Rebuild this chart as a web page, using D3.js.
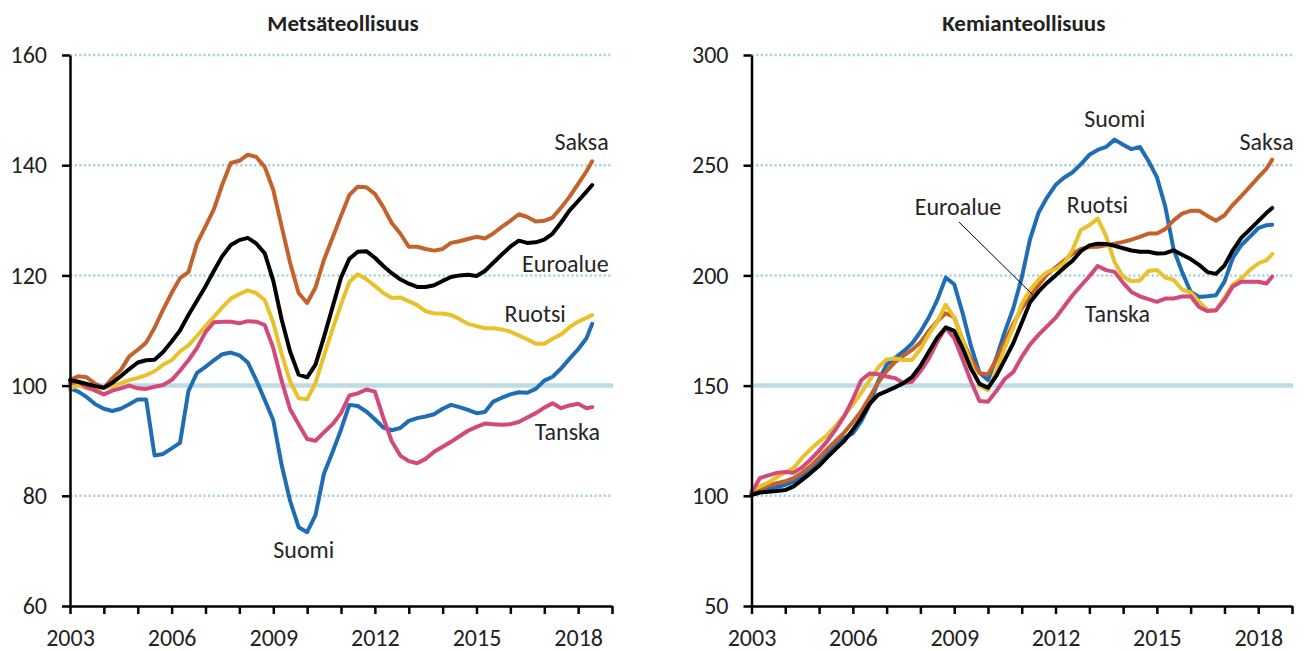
<!DOCTYPE html>
<html><head><meta charset="utf-8">
<script src="https://cdn.jsdelivr.net/npm/d3@7"></script>
<style>
body{margin:0;background:#fff;}
svg{display:block;font-family:Carlito,Calibri,Lato,sans-serif;}
</style></head><body>
<svg id="chart" width="1304" height="651"></svg>
<script>
// ---------- DATA ----------
const dates = ["2003-01","2003-04","2003-07","2003-10","2004-01","2004-04","2004-07","2004-10",
"2005-01","2005-04","2005-07","2005-10","2006-01","2006-04","2006-07","2006-10",
"2007-01","2007-04","2007-07","2007-10","2008-01","2008-04","2008-07","2008-10",
"2009-01","2009-04","2009-07","2009-10","2010-01","2010-04","2010-07","2010-10",
"2011-01","2011-04","2011-07","2011-10","2012-01","2012-04","2012-07","2012-10",
"2013-01","2013-04","2013-07","2013-10","2014-01","2014-04","2014-07","2014-10",
"2015-01","2015-04","2015-07","2015-10","2016-01","2016-04","2016-07","2016-10",
"2017-01","2017-04","2017-07","2017-10","2018-01","2018-04","2018-06"];

const seriesNames = ["Suomi","Saksa","Ruotsi","Tanska","Euroalue"];
const panelTitles = ["Metsäteollisuus","Kemianteollisuus"];
const xTickYears = [2003,2006,2009,2012,2015,2018];
const metsaTicks = [60,80,100,120,140,160];
const kemiaTicks = [50,100,150,200,250,300];

// Metsäteollisuus (forest industry), index 2003 = 100
const metsaSuomi = [99.5,98.9,97.9,96.6, 95.8,95.4,95.8,96.6, 97.5,97.5,87.3,87.6, 88.6,89.6,99,102.3,
 103.4,104.6,105.7,106, 105.5,104.2,101,97.4, 93.7,85.6,79.1,74.3, 73.4,76.5,84,87.9,
 92,96.5,96.3,95.3, 93.9,92.4,91.9,92.3, 93.6,94.1,94.4,94.8, 95.8,96.5,96.1,95.6,
 95,95.2,97.1,97.8, 98.4,98.8,98.7,99.4, 100.9,101.6,103.1,104.9, 106.6,108.6,111.2];
const metsaSaksa = [101,101.7,101.5,100.3, 99.6,101.3,102.8,105.3, 106.5,107.8,110.5,113.8, 116.8,119.5,120.6,125.8,
 128.9,132,136.5,140.4, 140.8,141.9,141.5,139.7, 135.5,128.9,122.3,116.8, 115,117.8,122.8,126.8,
 130.8,134.6,136.1,136, 134.8,132.4,129.5,127.6, 125.2,125.2,124.8,124.5, 124.8,125.9,126.2,126.6,
 127,126.7,127.6,128.8, 129.9,131.1,130.6,129.8, 129.9,130.5,132.3,134.3, 136.6,138.9,140.7];
const metsaRuotsi = [99.5,100.1,99.5,99.3, 99.6,99.9,100.4,101, 101.4,101.9,102.6,103.8, 104.6,106.2,107.3,109,
 110.8,112.5,114.2,115.8, 116.6,117.3,116.8,115.5, 111.4,105.7,100.8,97.7, 97.5,100.5,105.4,110.2,
 114.7,118.8,120.2,119.3, 118.1,116.8,115.9,116, 115.3,114.6,113.5,113.1, 113.1,112.8,112.1,111.2,
 110.8,110.4,110.4,110.2, 109.8,109.1,108.4,107.6, 107.6,108.5,109.3,110.6, 111.6,112.3,112.8];
const metsaTanska = [100.4,100.7,99.7,99.1, 98.4,99.1,99.5,100, 99.5,99.4,99.8,100.1, 101,102.7,104.6,106.8,
 109.7,111.5,111.6,111.6, 111.3,111.7,111.6,111, 106.8,100.9,95.7,93, 90.3,90,91.5,93,
 95,98.2,98.6,99.3, 98.9,94.2,89.9,87.3, 86.3,85.9,86.7,88, 88.9,89.8,90.8,91.8,
 92.5,93.1,93,92.9, 93,93.4,94.2,95, 96,96.8,95.9,96.4, 96.7,95.9,96.1];
const metsaEuroalue = [101,100.7,100.3,99.9, 99.6,100.5,101.7,103, 104.2,104.6,104.7,106.1, 108,110,112.8,115.4,
 118,120.8,123.5,125.5, 126.4,126.8,125.8,124, 119,112,106.2,102, 101.5,103.8,108.8,114.2,
 119.6,123,124.3,124.4, 123.2,121.7,120.4,119.3, 118.5,117.9,117.9,118.2, 119,119.7,120,120.1,
 119.9,120.8,122.3,123.8, 125.2,126.3,125.9,126, 126.5,127.6,129.6,131.8, 133.5,135.2,136.4];

// Kemianteollisuus (chemical industry), index 2003 = 100
const kemiaSuomi = [100.5,102,103.2,104, 104.9,106.4,109,112, 115.8,119.8,123.2,126.3, 128.3,133.8,141.4,152,
 159.5,162.5,165.5,169, 174.3,180.9,188.8,199, 196,183,168,155.8, 152.5,162.5,174.4,185,
 199,216.5,228.4,235.3, 241,244.3,246.7,250.4, 254.7,256.9,258.3,261.6, 259.3,257.3,258.3,252,
 244.6,231.4,211.8,201.5, 192.6,190.2,190.5,191, 197.2,207.9,213.7,217.5, 221.4,222.8,223];
const kemiaSaksa = [101.5,103.1,104.6,105.7, 106.6,108,110.5,113.5, 117.3,121.3,125,128.8, 133.5,138.4,144.7,151.3,
 156.6,160.6,163.5,166.2, 169.6,174.7,179.2,182.8, 181,170.7,162,155.7, 155,161.8,169.8,178,
 185,190.5,195.5,200.5, 203.5,206.6,209.8,212, 212.9,213,213.7,214.4, 215.2,216.2,217.5,219,
 219,221,225,228, 229.3,229.3,227,224.8, 227.3,232,236,240.2, 244.5,248.5,252.5];
const kemiaRuotsi = [102.5,104.2,106,108.4, 110.7,112.6,117.3,121.1, 124.6,127.6,131.8,136.5, 141.4,146.7,152.4,158.2,
 161.9,162.3,161.6,161.6, 166.5,173.2,178.8,186.7, 180.9,170.5,160,149.8, 147.9,156.6,167.1,176.3,
 187,193.4,198,201.5, 202.8,205.4,211.4,220.6, 222.8,225.8,217.8,206, 199.4,197.4,197.7,202,
 202.4,199,198,193.6, 192.3,188.1,184.2,184.1, 189.9,195.8,198.5,202.4, 205.4,206.9,209.6];
const kemiaTanska = [101.5,108,109.3,110.4, 110.8,110.5,112.9,116.5, 120.5,124.9,130.2,136.2, 143.9,152.4,155.5,155.2,
 154.1,153.4,151.2,151.7, 156.5,162.2,169.8,176.3, 171.5,162,152,143, 142.7,147.5,153,156.1,
 163,168.7,173,176.9, 180.7,185.8,190.9,195.3, 199.6,204.3,202.4,201.6, 196.6,192.5,190.5,189.2,
 188,189.5,189.5,190.4, 190.5,185.7,183.8,184.2, 188.9,195,197.1,197.1, 197.1,196.3,199.5];
const kemiaEuroalue = [100.3,101.5,101.8,102.2, 102.6,104.3,107.2,110.3, 113.6,117.5,121.3,125, 130,135.4,141.7,145.8,
 147.5,149.2,151.1,153.8, 158.9,165.4,171.7,176.4, 174.8,167,157.7,150.8, 149,154.4,161.7,169.2,
 178.5,187.8,192.6,196.6, 200,203.4,206.6,211, 213.6,214.4,214.3,213.4, 212.3,211.3,210.7,210.7,
 209.9,210.1,211.4,209.4, 207.4,204.8,201.5,200.7, 204.5,211.4,217,220.8, 224.6,228.4,230.6];

// label anchors in data units: [name, year, value, anchor]
const metsaLabels = [["Saksa",2018.9,142.8,"end"],["Euroalue",2018.9,120.6,"end"],["Ruotsi",2015.83,111.5,"start"],
 ["Tanska",2016.72,90.1,"start"],["Suomi",2009.9,68.7,"middle"]];
const kemiaLabels = [["Suomi",2013.75,267.3,"middle"],["Saksa",2019.05,256.9,"end"],["Ruotsi",2013.24,228.3,"middle"],
 ["Tanska",2013.83,178.9,"middle"],["Euroalue",2009.11,227.4,"middle"]];
const kemiaLeader = [[2009.14,224.2],[2011.36,190.7]];

// ---------- DRAW ----------
const colors = {Suomi:"#1f6db4", Saksa:"#c5612b", Ruotsi:"#e9c12b", Tanska:"#d2497a", Euroalue:"#000000"};
const parse = d3.timeParse("%Y-%m");
const dt = dates.map(parse);
const yearDate = yv => new Date(Math.floor(yv), 0, 1).getTime() + (yv - Math.floor(yv)) * 365.25 * 864e5;

const panels = [
  {title: panelTitles[0], x0: 70, x1: 612, dom: [60,160], ticks: metsaTicks, base: 100,
   data: {Suomi: metsaSuomi, Saksa: metsaSaksa, Ruotsi: metsaRuotsi, Tanska: metsaTanska, Euroalue: metsaEuroalue},
   labels: metsaLabels, leader: null},
  {title: panelTitles[1], x0: 751.5, x1: 1292, dom: [50,300], ticks: kemiaTicks, base: 150,
   data: {Suomi: kemiaSuomi, Saksa: kemiaSaksa, Ruotsi: kemiaRuotsi, Tanska: kemiaTanska, Euroalue: kemiaEuroalue},
   labels: kemiaLabels, leader: kemiaLeader}
];
const plotTop = 55, plotBottom = 606;
const svg = d3.select("#chart");
const FONT = "Carlito,Calibri,Lato,sans-serif";
const TICK_FS = 24, LABEL_FS = 24, TITLE_FS = 23;

panels.forEach(p => {
  const x = d3.scaleTime().domain([new Date(2003,0,1), new Date(2019,0,1)]).range([p.x0, p.x1]);
  const y = d3.scaleLinear().domain(p.dom).range([plotBottom, plotTop]);
  const g = svg.append("g");

  // gridlines
  p.ticks.filter(t => t !== p.dom[0]).forEach(t => {
    const solid = t === p.base;
    g.append("line")
      .attr("x1", p.x0).attr("x2", p.x1 + (solid ? 1 : 0))
      .attr("y1", y(t)).attr("y2", y(t))
      .attr("stroke", solid ? "#bcdbe5" : "#acd2e2")
      .attr("stroke-width", solid ? 4.5 : 2.5)
      .attr("stroke-dasharray", solid ? null : "2.3,2.3");
  });

  // title
  g.append("text").attr("x", (p.x0 + p.x1) / 2 + 2).attr("y", 31)
    .attr("text-anchor", "middle").attr("font-weight", "bold").attr("font-size", TITLE_FS)
    .attr("fill", "#222").attr("font-family", FONT).text(p.title);

  // lines
  const line = d3.line().x((d,i) => x(dt[i])).y(d => y(d)).curve(d3.curveLinear);
  seriesNames.forEach(n => {
    g.append("path").datum(p.data[n]).attr("d", line)
      .attr("fill", "none").attr("stroke", colors[n]).attr("stroke-width", 4)
      .attr("stroke-linejoin", "round").attr("stroke-linecap", "round");
  });

  // labels
  p.labels.forEach(([name, yr, v, anchor]) => {
    g.append("text").attr("x", x(yearDate(yr))).attr("y", y(v))
      .attr("text-anchor", anchor).attr("font-size", LABEL_FS).attr("fill", "#262626")
      .attr("font-family", FONT).text(name);
  });
  if (p.leader) {
    g.append("line")
      .attr("x1", x(yearDate(p.leader[0][0]))).attr("y1", y(p.leader[0][1]))
      .attr("x2", x(yearDate(p.leader[1][0]))).attr("y2", y(p.leader[1][1]))
      .attr("stroke", "#000").attr("stroke-width", 1);
  }

  // axes
  const xAxis = d3.axisBottom(x).ticks(d3.timeYear.every(1)).tickSize(8).tickSizeOuter(0).tickPadding(15)
    .tickFormat(d => xTickYears.includes(d.getFullYear()) ? d.getFullYear() : "");
  const gx = g.append("g").attr("transform", `translate(0,${plotBottom})`).call(xAxis);
  const yAxis = d3.axisLeft(y).tickValues(p.ticks).tickSize(8).tickSizeOuter(0).tickPadding(15);
  const gy = g.append("g").attr("transform", `translate(${p.x0},0)`).call(yAxis);
  [gx, gy].forEach(a => {
    a.attr("font-family", FONT).attr("font-size", TICK_FS);
    a.selectAll("path.domain").attr("stroke", "#000").attr("stroke-width", 2.5);
    a.selectAll(".tick line").attr("stroke", "#000").attr("stroke-width", 2.5);
    a.selectAll(".tick text").attr("fill", "#222");
  });
});
</script>
</body></html>
